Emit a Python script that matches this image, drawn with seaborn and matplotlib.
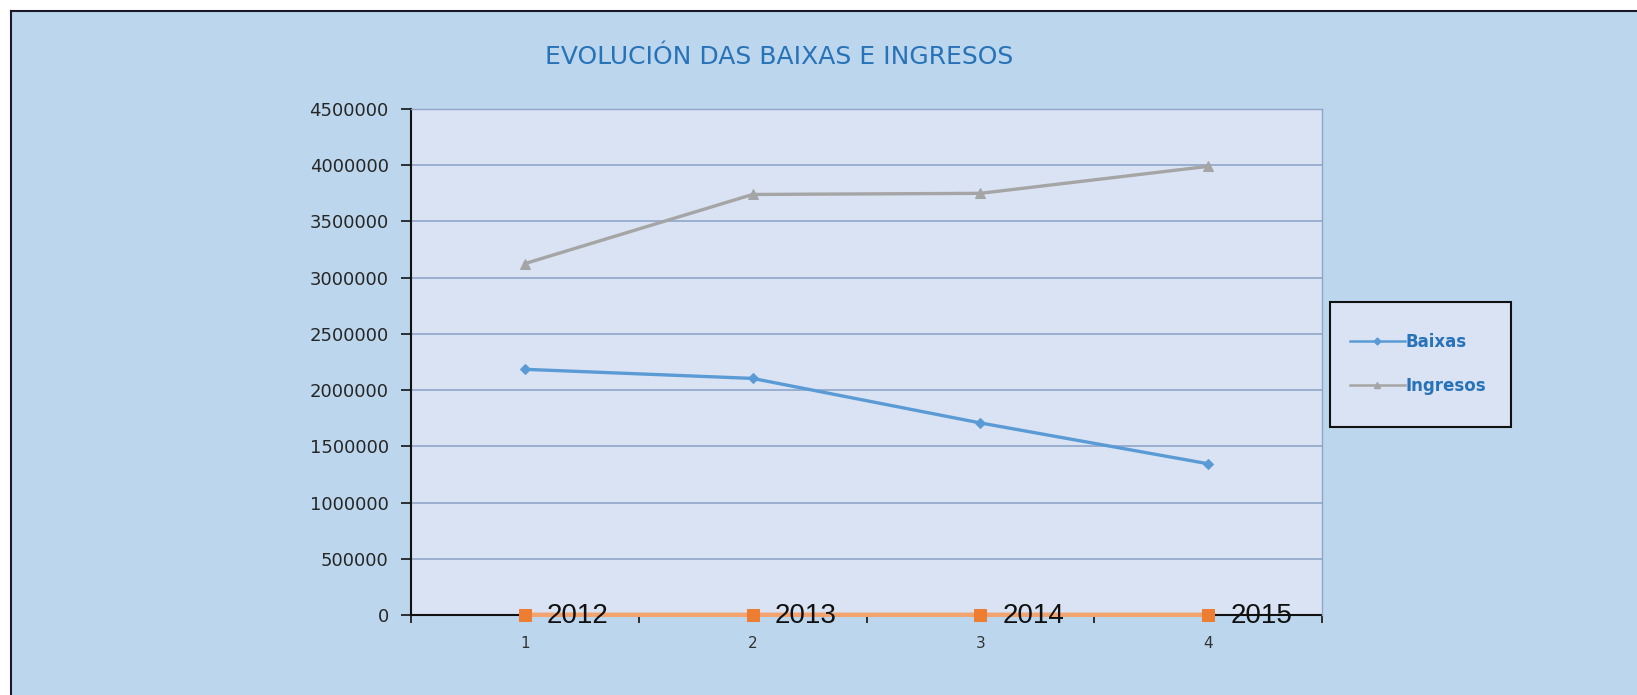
import matplotlib
matplotlib.use("Agg")
import matplotlib.pyplot as plt
from matplotlib.patches import Rectangle
from matplotlib.lines import Line2D
from matplotlib.ticker import FixedLocator, FuncFormatter
import seaborn as sns
import pandas as pd

# ---- data ----
categories = [1, 2, 3, 4]
baixas = [2185000, 2104000, 1708000, 1345000]
ingresos = [3125000, 3740000, 3750000, 3990000]
anos = [2012, 2013, 2014, 2015]
anos_labels = ["2012", "2013", "2014", "2015"]
y_ticks = [0, 500000, 1000000, 1500000, 2000000, 2500000, 3000000, 3500000, 4000000, 4500000]
title = "EVOLUCIÓN DAS BAIXAS E INGRESOS"

df = pd.DataFrame({"cat": categories, "Baixas": baixas, "Ingresos": ingresos, "ano": anos})

W, H = 1637, 695
fig = plt.figure(figsize=(W / 100, H / 100), dpi=100)
fig.patch.set_facecolor("white")

bg = "#BCD7ED"
plot_bg = "#DAE3F3"
blue_txt = "#2872B8"

# chart area background with border on top and left
fig.patches.append(Rectangle((11 / W, 0), 1 - 11 / W, 1 - 11 / H, transform=fig.transFigure,
                             facecolor=bg, edgecolor="none", zorder=-5))
fig.lines.append(Line2D([11 / W, 11 / W], [0, 1 - 11 / H], transform=fig.transFigure,
                        color="#1a1a2a", lw=1.5, zorder=-4))
fig.lines.append(Line2D([11 / W, 1], [1 - 11 / H, 1 - 11 / H], transform=fig.transFigure,
                        color="#1a1a2a", lw=1.5, zorder=-4))

ax = fig.add_axes([411 / W, 80 / H, 911 / W, 506 / H])
ax.set_zorder(1)
ax.set_facecolor(plot_bg)
ax.set_axisbelow(True)

sns.lineplot(data=df, x="cat", y="Baixas", ax=ax, color="#5B9BD5", lw=2.4,
             marker="D", markersize=5.5, markeredgecolor="#5B9BD5", label="Baixas", zorder=3)
sns.lineplot(data=df, x="cat", y="Ingresos", ax=ax, color="#A5A5A5", lw=2.4,
             marker="^", markersize=6.5, markeredgecolor="#A5A5A5", label="Ingresos", zorder=3)
sns.lineplot(data=df, x="cat", y="ano", ax=ax, color="#F2A470", lw=3.2,
             marker="s", markersize=8, markerfacecolor="#ED7D31", markeredgecolor="#ED7D31",
             legend=False, zorder=4, clip_on=False)

for x, v, lab in zip(categories, anos, anos_labels):
    ax.annotate(lab, xy=(x, v), xytext=(16, -1), textcoords="offset points",
                ha="left", va="center", fontsize=20, family="Liberation Sans",
                color="#111111", zorder=6, annotation_clip=False)

ax.set_xlim(0.5, 4.5)
ax.set_ylim(0, 4500000)
ax.yaxis.set_major_locator(FixedLocator(y_ticks))
ax.yaxis.set_major_formatter(FuncFormatter(lambda v, p: f"{int(v)}"))
ax.xaxis.set_major_locator(FixedLocator(categories))
ax.xaxis.set_major_formatter(FuncFormatter(lambda v, p: f"{int(v)}"))
ax.xaxis.set_minor_locator(FixedLocator([0.5, 1.5, 2.5, 3.5, 4.5]))
ax.set_xlabel("")
ax.set_ylabel("")

ax.grid(axis="y", color="#8FA5C9", lw=1.2)
ax.grid(axis="x", visible=False)
ax.tick_params(axis="y", which="major", length=7, width=1.3, color="#222222",
               pad=9, labelsize=13, labelcolor="#262626")
ax.tick_params(axis="x", which="major", length=0, pad=15, labelsize=11, labelcolor="#333333")
ax.tick_params(axis="x", which="minor", length=6, width=1.3, color="#222222", direction="out")

for s in ["left", "bottom"]:
    ax.spines[s].set_color("#111111")
    ax.spines[s].set_linewidth(1.5)
for s in ["top", "right"]:
    ax.spines[s].set_color("#8FA5C9")
    ax.spines[s].set_linewidth(1.0)
ax.spines["bottom"].set_zorder(2)

# legend
ax.get_legend().remove()
fig.patches.append(Rectangle((1330 / W, (H - 427) / H), 181 / W, 125 / H, transform=fig.transFigure,
                             facecolor=plot_bg, edgecolor="#111111", lw=1.5, zorder=2))
handles = [Line2D([], [], color="#5B9BD5", lw=1.8, marker="D", markersize=3.5),
           Line2D([], [], color="#A5A5A5", lw=1.8, marker="^", markersize=4.5)]
leg = fig.legend(handles, ["Baixas", "Ingresos"], loc="center",
                 bbox_to_anchor=((1330 + 88) / W, (H - 364) / H), frameon=False,
                 handlelength=3.3, handletextpad=0.05, labelspacing=1.55, numpoints=1,
                 prop={"size": 12, "weight": "bold", "family": "DejaVu Sans"},
                 labelcolor=blue_txt)
leg.set_zorder(3)

fig.text(779 / W, 1 - 57 / H, title, ha="center", va="center", fontsize=18,
         color=blue_txt, family="DejaVu Sans")

fig.savefig("out.png", dpi=100, facecolor=fig.get_facecolor())
